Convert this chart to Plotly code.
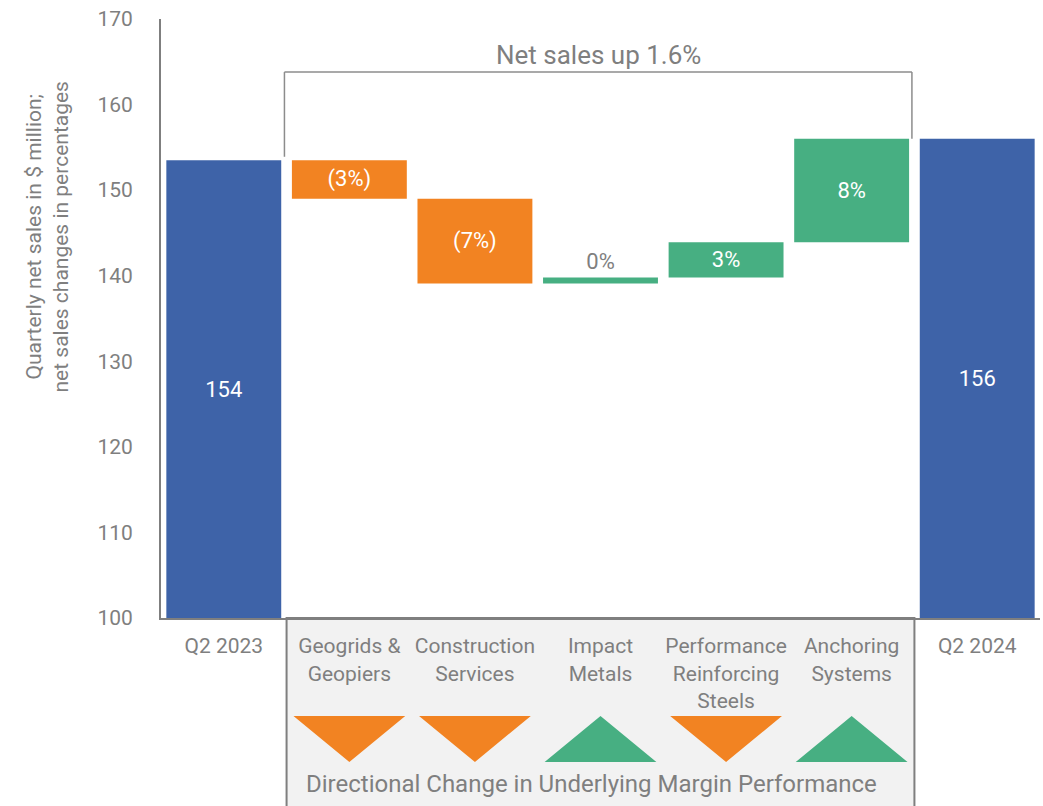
import plotly.graph_objects as go

# ---------------- data ----------------
categories = ["Q2 2023", "Geogrids &<br>Geopiers", "Construction<br>Services", "Impact<br>Metals",
              "Performance<br>Reinforcing<br>Steels", "Anchoring<br>Systems", "Q2 2024"]
start_value = 153.5
changes = [-4.5, -9.9, 0.7, 4.1, 12.1]
end_value = 156.0
bar_labels = ["154", "(3%)", "(7%)", "0%", "3%", "8%", "156"]
margin_direction = ["down", "down", "up", "down", "up"]
header_text = "Net sales up 1.6%"
footer_text = "Directional Change in Underlying Margin Performance"
y_title = "Quarterly net sales in $ million;<br>net sales changes in percentages"
y_ticks = [100, 110, 120, 130, 140, 150, 160, 170]

# ---------------- style ----------------
BLUE = "#3E63A8"
ORANGE = "#F28322"
GREEN = "#47AF82"
GREY = "#7F7F7F"
LINE = "#8C8C8C"
FONT = "Roboto"
Y_MIN, Y_MAX = 100, 170
W, H = 1043, 806
ML, MR, MT, MB = 161, 3, 19, 0
AXIS_BOTTOM_PX = 618
split = (H - AXIS_BOTTOM_PX) / (H - MT - MB)

# ---------------- waterfall geometry ----------------
n = len(categories)
xs = list(range(n))
bases, heights, colors, positions = [], [], [], []
bases.append(Y_MIN); heights.append(start_value - Y_MIN); colors.append(BLUE); positions.append("inside")
running = start_value
for d in changes:
    new = running + d
    bases.append(min(running, new))
    heights.append(abs(d))
    colors.append(GREEN if d > 0 else ORANGE)
    positions.append("outside" if abs(d) < 2 else "inside")
    running = new
bases.append(Y_MIN); heights.append(end_value - Y_MIN); colors.append(BLUE); positions.append("inside")

fig = go.Figure()
fig.add_trace(go.Bar(
    x=xs, y=heights, base=bases, marker=dict(color=colors, line=dict(width=0)),
    text=bar_labels, textposition=positions, insidetextanchor="middle",
    insidetextfont=dict(family=FONT, size=22, color="white"),
    outsidetextfont=dict(family=FONT, size=22, color=GREY),
    constraintext="none", cliponaxis=False, hoverinfo="skip", width=0.915,
))

# margin direction triangles (lower panel)
tri_top, tri_bot, half = 0.479, 0.234, 0.445
for colour, want in ((ORANGE, "down"), (GREEN, "up")):
    px, py = [], []
    for i, dirn in enumerate(margin_direction):
        if dirn != want:
            continue
        c = i + 1
        if dirn == "down":
            px += [c - half, c + half, c, c - half, None]
            py += [tri_top, tri_top, tri_bot, tri_top, None]
        else:
            px += [c - half, c + half, c, c - half, None]
            py += [tri_bot, tri_bot, tri_top, tri_bot, None]
    fig.add_trace(go.Scatter(x=px, y=py, xaxis="x", yaxis="y2", mode="lines", fill="toself",
                             fillcolor=colour, line=dict(width=0, color=colour), hoverinfo="skip"))

# grey box behind segment labels
fig.add_shape(type="rect", xref="x", yref="paper", x0=0.5, x1=n - 1.5, y0=-0.05, y1=split,
              fillcolor="#F2F2F2", line=dict(color=GREY, width=2), layer="below")

# bracket
bracket_y = 163.8
xl, xr = 0.483, n - 1.52
fig.add_shape(type="line", xref="x", yref="y", x0=xl, x1=xl, y0=start_value + 0.4, y1=bracket_y,
              line=dict(color=LINE, width=1.5))
fig.add_shape(type="line", xref="x", yref="y", x0=xr, x1=xr, y0=end_value, y1=bracket_y,
              line=dict(color=LINE, width=1.5))
fig.add_shape(type="line", xref="x", yref="y", x0=xl, x1=xr, y0=bracket_y, y1=bracket_y,
              line=dict(color=LINE, width=1.5))

fig.add_annotation(x=(xl + xr) / 2, y=bracket_y, xref="x", yref="y", text=header_text,
                   showarrow=False, yanchor="bottom", xanchor="center", yshift=0,
                   font=dict(family=FONT, size=26, color=GREY))
fig.add_annotation(x=2.93, y=0.117, xref="x", yref="y2", text=footer_text, showarrow=False,
                   xanchor="center", yanchor="middle", font=dict(family=FONT, size=24, color=GREY))
fig.add_annotation(x=(46.5 - ML) / (W - ML - MR), y=(H - 237) / (H - MT - MB), xref="paper", yref="paper",
                   text=y_title, textangle=-90, showarrow=False, xanchor="center", yanchor="middle",
                   font=dict(family=FONT, size=21, color=GREY))

fig.update_layout(
    template="none",
    width=W, height=H, autosize=False,
    margin=dict(l=ML, r=MR, t=MT, b=MB, pad=0),
    paper_bgcolor="white", plot_bgcolor="white",
    showlegend=False, bargap=0.085,
    font=dict(family=FONT, color=GREY),
    xaxis=dict(range=[-0.5, n - 0.5], tickmode="array", tickvals=xs, ticktext=categories,
               showline=True, linecolor=GREY, linewidth=2, ticks="", showgrid=False, zeroline=False,
               automargin=False,
               tickfont=dict(family=FONT, size=21, color=GREY), ticklabelstandoff=8, fixedrange=True),
    yaxis=dict(domain=[split, 1], range=[Y_MIN, Y_MAX], tickmode="array", tickvals=y_ticks,
               showline=True, linecolor=GREY, linewidth=2, ticks="", showgrid=False, zeroline=False,
               automargin=False,
               tickfont=dict(family=FONT, size=21, color=GREY), ticklabelstandoff=22, fixedrange=True),
    yaxis2=dict(domain=[0, split], range=[0, 1], anchor="x", visible=False, fixedrange=True,
                automargin=False),
)

fig.write_html("out.html")
